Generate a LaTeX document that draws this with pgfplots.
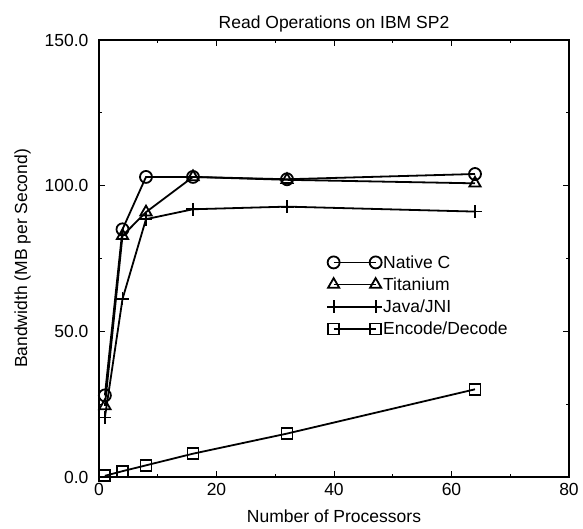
\documentclass[border=0pt]{standalone}
\usepackage{fontspec}
\setmainfont{Liberation Sans}
\usepackage{pgfplots}
\pgfplotsset{compat=1.18}
\newcommand{\fs}{\fontsize{17.5}{21}\selectfont}
\begin{document}
\begin{tikzpicture}[font=\fs]
\path (-99pt,-52pt) rectangle (484pt,477pt);
\begin{axis}[
  at={(0pt,0pt)}, anchor=south west,
  scale only axis, width=470pt, height=437pt,
  xmin=0, xmax=80, ymin=0, ymax=150,
  xtick={0,20,40,60,80}, ytick={0,50,100,150},
  minor x tick num=1, minor y tick num=1,
  major tick length=6pt, minor tick length=3pt,
  tick align=inside,
  /pgf/number format/assume math mode=true,
  yticklabel style={/pgf/number format/fixed, /pgf/number format/fixed zerofill, /pgf/number format/precision=1, xshift=-7pt},
  xticklabel style={yshift=-3pt},
  tick label style={font=\fs, black},
  label style={font=\fs},
  xlabel style={yshift=-7pt},
  ylabel style={yshift=7pt},
  title style={font=\fs, yshift=-2pt},
  title={Read Operations on IBM SP2},
  xlabel={Number of Processors},
  ylabel={Bandwidth (MB per Second)},
  axis line style={line width=1.1pt},
  every tick/.style={black, line width=0.9pt},
  legend style={draw=none, fill=none, font=\fs, at={(0.485,0.51)}, anchor=north west, inner sep=0pt, row sep=6pt,
    nodes={inner sep=1pt}},
  legend cell align=left,
  legend image code/.code={\draw[#1] plot coordinates {(0pt,0pt) (42pt,0pt)};},
  every axis plot/.append style={black, line width=1.8pt, mark options={solid, line width=1.8pt}},
]
\addplot[mark=o, mark size=6pt] coordinates {(1,28) (4,85) (8,103) (16,103) (32,102.2) (64,104)};
\addlegendentry{Native C}
\addplot[mark=triangle, mark size=6.5pt] coordinates {(1,24.4) (4,82.8) (8,90.9) (16,103) (32,102) (64,100.8)};
\addlegendentry{Titanium}
\addplot[mark=+, mark size=6.5pt] coordinates {(1,20.4) (4,61.1) (8,88.5) (16,91.9) (32,92.8) (64,91.1)};
\addlegendentry{Java/JNI}
\addplot[mark=square, mark size=5.5pt] coordinates {(1,0.4) (4,2) (8,4) (16,8) (32,14.9) (64,30.1)};
\addlegendentry{Encode/Decode}
\end{axis}
\end{tikzpicture}
\end{document}
